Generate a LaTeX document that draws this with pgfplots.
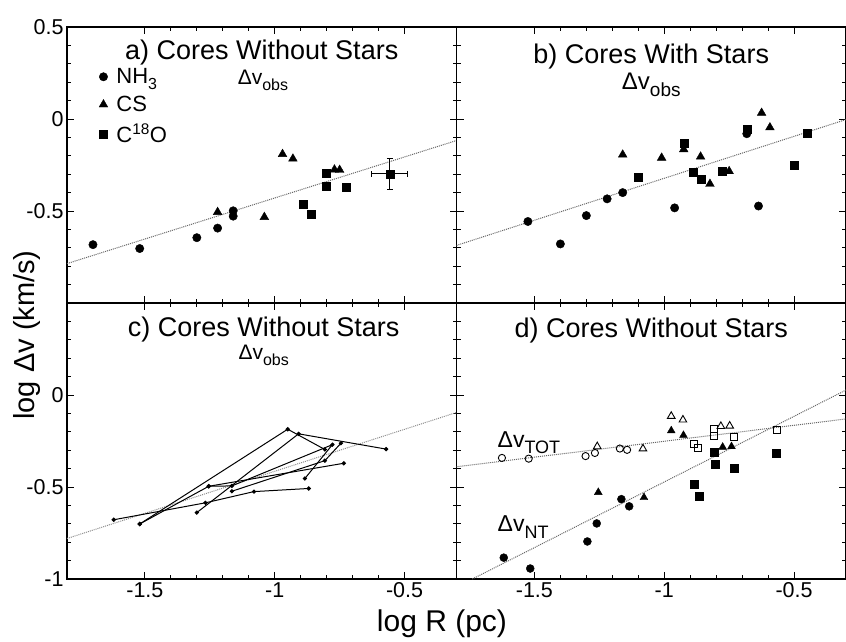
\documentclass[border=0pt]{standalone}
\usepackage{fontspec}
\setmainfont{Liberation Sans}
\usepackage{graphicx}
\usepackage{pgfplots}
\pgfplotsset{compat=1.18}
\newcommand{\fs}[1]{\fontsize{#1}{#1}\selectfont}
\newcommand{\lsub}[2]{\raisebox{-0.28em}{\fs{#1}#2}}
\pgfplotsset{
  panel/.style={
    scale only axis, width=389.5pt, height=276pt, anchor=south west,
    xmin=-1.8, xmax=-0.3, ymin=-1, ymax=0.5,
    xtick={-1.5,-1,-0.5}, ytick={-1,-0.5,0,0.5},
    minor x tick num=4, minor y tick num=4,
    tick align=inside, major tick length=7pt, minor tick length=4pt,
    axis line style={line width=1.1pt},
    every tick/.append style={black, line width=0.9pt},
    tick label style={font=\fs{21.5}},
  },
  fitline/.style={black!60, densely dotted, line width=1pt, forget plot},
  nh3/.style={only marks, mark=*, mark size=4.2pt, black, mark options={fill=black}},
  cs/.style={only marks, mark=triangle*, mark size=5pt, black, mark options={fill=black}},
  cxo/.style={only marks, mark=square*, mark size=4pt, black, mark options={fill=black}},
  core/.style={black, line width=1pt, mark=*, mark size=1.6pt, mark options={fill=black}},
  onh3/.style={only marks, mark=o, mark size=3.6pt, black, mark options={fill=white, line width=0.9pt}},
  ocs/.style={only marks, mark=triangle, mark size=4.4pt, black, mark options={fill=white, line width=0.9pt}},
  ocxo/.style={only marks, mark=square, mark size=3.5pt, black, mark options={fill=white, line width=0.9pt}},
}
\begin{document}
\begin{tikzpicture}[x=1pt,y=1pt]
\useasboundingbox (0,0) rectangle (846,641);

% ---------------- a ----------------
\begin{axis}[panel, at={(67pt,338pt)},
  xticklabels={}, yticklabels={,-0.5,0,0.5},
  legend image code/.code={\path[draw=none, fill=none] (0pt,0pt) -- (17pt,0pt); \draw[#1] plot coordinates {(6pt,0pt)};},
  legend style={at={(0.07,0.865)}, anchor=north west, draw=none, fill=none,
    font=\fs{22}, row sep=7pt, cells={anchor=west}}]
\addplot[fitline] coordinates {(-1.8,-0.786) (-0.3,-0.117)};
\addplot[nh3] coordinates {(-1.70,-0.683) (-1.52,-0.704) (-1.30,-0.645) (-1.22,-0.593) (-1.16,-0.499) (-1.16,-0.528)};
\addlegendentry{NH\lsub{16}{3}}
\addplot[cs] coordinates {(-1.22,-0.506) (-1.04,-0.533) (-0.97,-0.191) (-0.93,-0.216) (-0.77,-0.275) (-0.75,-0.277)};
\addlegendentry{CS}
\addplot[cxo] coordinates {(-0.80,-0.293) (-0.80,-0.365) (-0.89,-0.464) (-0.86,-0.52) (-0.725,-0.373)};
\addlegendentry{C\textsuperscript{18}O}
\addplot[cxo, forget plot, error bars/.cd, x dir=both, x explicit, y dir=both, y explicit,
  error bar style={line width=1pt, black}, error mark options={rotate=90, mark size=3pt, line width=1pt, black}]
  coordinates {(-0.557,-0.298) +- (0.07,0.084)};
\node[anchor=base, font=\fs{27}] at (rel axis cs:0.5,0.883) {a) Cores Without Stars};
\node[anchor=base, font=\fs{21}] at (rel axis cs:0.503,0.792) {Δv\lsub{16}{obs}};
\end{axis}

% ---------------- b ----------------
\begin{axis}[panel, at={(456.5pt,338pt)}, xticklabels={}, yticklabels={}]
\addplot[fitline] coordinates {(-1.8,-0.687) (-0.3,-0.003)};
\addplot[nh3] coordinates {(-1.525,-0.557) (-1.40,-0.679) (-1.30,-0.525) (-1.22,-0.434) (-1.16,-0.40) (-0.96,-0.483) (-0.637,-0.473) (-0.682,-0.08)};
\addplot[cs] coordinates {(-1.16,-0.194) (-1.01,-0.211) (-0.925,-0.165) (-0.86,-0.205) (-0.824,-0.353) (-0.75,-0.284) (-0.625,0.033) (-0.593,-0.046)};
\addplot[cxo] coordinates {(-1.10,-0.316) (-0.925,-0.133) (-0.89,-0.288) (-0.857,-0.325) (-0.777,-0.283) (-0.682,-0.053) (-0.50,-0.253) (-0.45,-0.078)};
\node[anchor=base, font=\fs{27}] at (rel axis cs:0.5,0.868) {b) Cores With Stars};
\node[anchor=base, font=\fs{24}] at (rel axis cs:0.5,0.772) {Δv\lsub{19}{obs}};
\end{axis}

% ---------------- c ----------------
\begin{axis}[panel, at={(67pt,62pt)},
  xticklabels={-1.5,-1,-0.5}, yticklabels={-1,-0.5,0,}]
\addplot[black!45, densely dotted, line width=1pt] coordinates {(-1.8,-0.78) (-0.3,-0.095)};
\addplot[core] coordinates {(-1.62,-0.678) (-1.267,-0.586) (-1.08,-0.525) (-0.869,-0.508)};
\addplot[core] coordinates {(-1.52,-0.701) (-1.254,-0.496) (-1.165,-0.494) (-0.778,-0.27) (-0.884,-0.454)};
\addplot[core] coordinates {(-1.52,-0.701) (-0.95,-0.186) (-0.807,-0.296)};
\addplot[core] coordinates {(-1.30,-0.639) (-0.908,-0.211) (-0.571,-0.294)};
\addplot[core] coordinates {(-1.254,-0.496) (-0.734,-0.371)};
\addplot[core] coordinates {(-1.165,-0.523) (-0.807,-0.357) (-0.745,-0.262)};
\node[anchor=base, font=\fs{27}] at (rel axis cs:0.505,0.879) {c) Cores Without Stars};
\node[anchor=base, font=\fs{21}] at (rel axis cs:0.505,0.794) {Δv\lsub{16}{obs}};
\end{axis}

% ---------------- d ----------------
\begin{axis}[panel, at={(456.5pt,62pt)},
  xticklabels={-1.5,-1,-0.5}, yticklabels={}]
\addplot[fitline] coordinates {(-1.8,-0.39) (-0.3,-0.13)};
\addplot[fitline] coordinates {(-1.739,-1) (-0.3,0.027)};
\addplot[onh3] coordinates {(-1.625,-0.342) (-1.522,-0.346) (-1.303,-0.332) (-1.267,-0.315) (-1.171,-0.291) (-1.143,-0.298)};
\addplot[ocs] coordinates {(-1.258,-0.28) (-1.082,-0.292) (-0.973,-0.115) (-0.928,-0.135) (-0.782,-0.17) (-0.748,-0.168)};
\addplot[ocxo] coordinates {(-0.81,-0.182) (-0.807,-0.22) (-0.884,-0.266) (-0.869,-0.288) (-0.731,-0.226) (-0.567,-0.189)};
\addplot[nh3, mark size=4pt] coordinates {(-1.618,-0.884) (-1.516,-0.943) (-1.296,-0.796) (-1.26,-0.698) (-1.165,-0.566) (-1.135,-0.605)};
\addplot[cs, mark size=4.5pt] coordinates {(-1.254,-0.529) (-1.078,-0.557) (-0.973,-0.194) (-0.926,-0.219) (-0.775,-0.283) (-0.741,-0.28)};
\addplot[cxo] coordinates {(-0.807,-0.309) (-0.805,-0.377) (-0.884,-0.486) (-0.865,-0.55) (-0.731,-0.398) (-0.567,-0.314)};
\node[anchor=base, font=\fs{27}] at (rel axis cs:0.5,0.875) {d) Cores Without Stars};
\node[anchor=base west, font=\fs{23}] at (axis cs:-1.655,-0.283) {Δv\lsub{18}{TOT}};
\node[anchor=base west, font=\fs{23}] at (axis cs:-1.655,-0.743) {Δv\lsub{18}{NT}};
\end{axis}

\node[rotate=90, font=\fs{29}] at (27pt,306pt) {log Δv (km/s)};
\node[font=\fs{30}] at (442pt,17pt) {log R (pc)};
\end{tikzpicture}
\end{document}
